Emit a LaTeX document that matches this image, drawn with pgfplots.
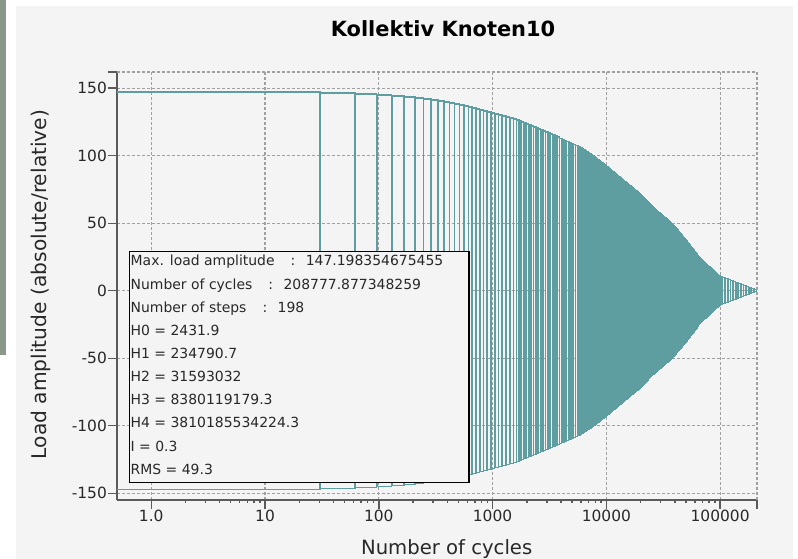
\documentclass[border=0pt]{standalone}
\usepackage{fontspec}
\setmainfont{DejaVu Sans}
\usepackage{pgfplots}
\pgfplotsset{compat=1.18}
\usepackage{pgfplotstable}
\definecolor{cb}{RGB}{95,158,160}
\definecolor{panel}{RGB}{244,244,244}
\definecolor{gridc}{RGB}{160,160,160}
\definecolor{axc}{RGB}{90,90,90}
\definecolor{strip}{RGB}{138,152,138}
\definecolor{txt}{RGB}{40,40,40}

\pgfplotstableread{
N a
0.5 147.20
30.5 147.20
62 146.46
96 145.71
130 144.97
167 144.23
209 143.48
247 142.74
289 141.99
331 141.25
376 140.51
419 139.76
463 139.02
513 138.28
564 137.53
615 136.79
663 136.05
716 135.30
771 134.56
832 133.81
897 133.07
967 132.33
1044 131.58
1126 130.84
1215 130.10
1312 129.35
1415 128.61
1528 127.86
1625 127.12
1706 126.38
1792 125.63
1882 124.89
1976 124.15
2076 123.40
2179 122.66
2288 121.92
2404 121.17
2523 120.43
2650 119.69
2783 118.94
2923 118.20
3070 117.45
3219 116.71
3372 115.97
3533 115.22
3698 114.48
3873 113.74
4058 112.99
4249 112.25
4448 111.51
4661 110.76
4881 110.02
5110 109.28
5355 108.53
5607 107.79
5871 107.05
6063 106.31
6258 105.56
6457 104.82
6662 104.08
6876 103.33
7092 102.59
7317 101.85
7551 101.10
7755 100.36
7955 99.62
8166 98.87
8377 98.13
8594 97.39
8819 96.64
9047 95.90
9282 95.16
9526 94.41
9772 93.67
10023 92.93
10273 92.18
10527 91.44
10788 90.70
11057 89.95
11327 89.21
11607 88.47
11896 87.72
12190 86.98
12491 86.24
12802 85.49
13118 84.75
13440 84.01
13775 83.26
14115 82.52
14464 81.78
14825 81.03
15191 80.29
15563 79.55
15954 78.80
16345 78.06
16749 77.32
17167 76.57
17592 75.83
18026 75.09
18476 74.34
18929 73.60
19397 72.86
19881 72.11
20277 71.37
20663 70.63
21067 69.88
21469 69.14
21884 68.39
22301 67.65
22732 66.91
23171 66.16
23613 65.42
24063 64.68
24532 63.93
24999 63.19
25556 62.45
26182 61.70
26805 60.96
27447 60.22
28113 59.47
28782 58.73
29472 57.99
30186 57.24
30903 56.50
31637 55.76
32404 55.01
33181 54.27
33969 53.53
34792 52.78
35627 52.04
36475 51.30
37358 50.55
38186 49.81
38843 49.07
39520 48.32
40200 47.58
40890 46.84
41603 46.09
42318 45.35
43056 44.60
43796 43.86
44548 43.12
45325 42.37
46104 41.63
46897 40.89
47714 40.14
48534 39.40
49369 38.66
50230 37.91
51094 37.17
51902 36.43
52734 35.68
53567 34.94
54413 34.20
55273 33.45
56146 32.71
57033 31.97
57947 31.22
58863 30.48
59793 29.74
60738 28.99
61697 28.25
62670 27.51
63675 26.76
64681 26.02
65686 25.28
66979 24.53
68444 23.79
69925 23.05
71470 22.30
73035 21.56
74617 20.82
76266 20.07
77918 19.33
79616 18.59
81360 17.84
83139 17.10
84940 16.36
86819 15.61
88798 14.87
90844 14.13
92960 13.38
95084 12.64
97275 11.90
99540 11.15
104713 10.41
110660 9.66
116950 8.92
123310 8.18
130017 7.43
137088 6.69
144544 5.95
152405 5.20
160694 4.46
169434 3.72
178649 2.97
187932 2.23
198153 1.49
208778 0.74
}\data

\begin{document}
\begin{tikzpicture}[x=1bp,y=1bp]
\useasboundingbox (0,0) rectangle (798,559);
\fill[white] (0,0) rectangle (798,559);
\fill[panel] (16,0) rectangle (793,553);
\fill[strip] (0,204) rectangle (5.5,559);
\begin{axis}[
  at={(117bp,59bp)}, anchor=south west,
  scale only axis, width=640bp, height=428bp,
  xmode=log, xmin=0.5, xmax=211000,
  ymin=-155, ymax=162,
  axis lines=left,
  axis line style={-, draw=axc, line width=1.6bp},
  xtick={1,10,100,1000,10000,100000},
  xticklabels={1.0,10,100,1000,10000,100000},
  ytick={-150,-100,-50,0,50,100,150},
  yticklabels={-150,-100,-50,0,50,100,150},
  minor xtick={}, minor ytick={},
  extra x ticks={211000}, extra x tick labels={},
  extra y ticks={162}, extra y tick labels={},
  extra tick style={grid=major},
  grid=major,
  major grid style={draw=gridc, line width=1.2bp, dash pattern=on 3bp off 2bp},
  tick align=outside, major tick length=9bp,
  tick style={draw=axc, line width=1.4bp},
  ticklabel style={font=\fontsize{15.5}{18}\selectfont, text=txt},
  yticklabel style={inner sep=1bp},
  xticklabel style={inner sep=1bp},
]
\addplot[cb, line width=1.3bp, const plot mark right, mark=none] table[x=N, y=a] {\data};
\addplot[cb, line width=1.3bp, const plot mark right, mark=none] table[x=N, y expr=-\thisrow{a}] {\data};
\addplot[draw=none, mark=none, skip coords between index={0}{1},
  error bars/.cd, y dir=both, y explicit, error mark=none,
  error bar style={draw=cb, solid, line width=1.8bp}]
  table[x=N, y expr=0, y error=a] {\data};
\end{axis}
% title and axis labels
\node[anchor=base, font=\fontsize{21}{25}\selectfont\bfseries, text=black] at (443,522.3) {Kollektiv Knoten10};
\node[anchor=base, font=\fontsize{19.7}{23}\selectfont, text=txt] at (446.7,4) {Number of cycles};
\node[anchor=base, rotate=90, font=\fontsize{20.3}{24}\selectfont, text=txt] at (46.7,274.5) {Load amplitude (absolute/relative)};
% info box
\draw[black, line width=1.3bp, fill=panel] (129.3,76.3) rectangle (469,307.3);
\begin{scope}[every node/.style={anchor=base west, inner sep=0pt, font=\fontsize{14}{16}\selectfont, text=txt}]
\node at (130.5,293.00) {Max. load amplitude\hspace{1.15em}:\hspace{0.75em}147.198354675455};
\node at (130.5,269.86) {Number of cycles\hspace{1.15em}:\hspace{0.75em}208777.877348259};
\node at (130.5,246.72) {Number of steps\hspace{1.15em}:\hspace{0.75em}198};
\node at (130.5,223.58) {H0 = 2431.9};
\node at (130.5,200.44) {H1 = 234790.7};
\node at (130.5,177.30) {H2 = 31593032};
\node at (130.5,154.16) {H3 = 8380119179.3};
\node at (130.5,131.02) {H4 = 3810185534224.3};
\node at (130.5,107.88) {I = 0.3};
\node at (130.5,84.74) {RMS = 49.3};
\end{scope}
\end{tikzpicture}
\end{document}
